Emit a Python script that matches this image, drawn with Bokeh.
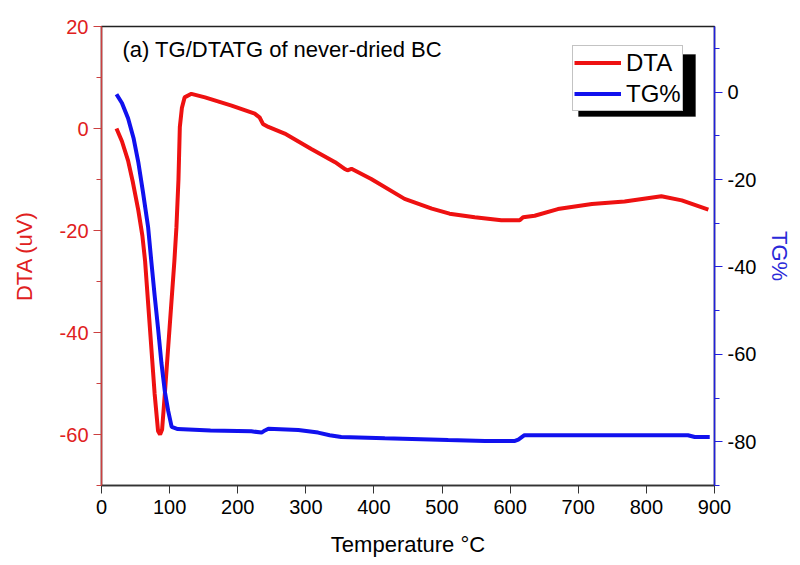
from bokeh.plotting import figure
from bokeh.models import (Range1d, LinearAxis, FixedTicker, Legend, LegendItem,
                          Label, BoxAnnotation, CustomJSTickFormatter)
from bokeh.embed import file_html
from bokeh.resources import INLINE

# ---- data ----
temp_dta = [22, 30, 39, 46, 54, 60, 64, 71, 78, 83, 86, 89, 93, 100, 107, 110, 113,
            115, 118, 122, 132, 152, 191, 225, 232, 237, 245, 269, 308, 343, 358,
            361, 367, 396, 445, 485, 511, 548, 587, 614, 619, 636, 670, 720, 768,
            822, 852, 891]
dta = [0, -2.5, -6.3, -10.5, -16, -21, -26, -39, -52, -59.3, -60, -59, -52, -39,
       -26, -19.4, -10, 0.3, 4, 6.1, 6.8, 6.1, 4.5, 2.9, 2.2, 0.9, 0.3, -1.0, -4.0,
       -6.6, -8.0, -8.2, -7.9, -9.9, -13.8, -15.7, -16.7, -17.4, -18.0, -18.0,
       -17.4, -17.1, -15.8, -14.8, -14.3, -13.3, -14.1, -15.9]

temp_tg = [22, 30, 39, 47, 54, 61, 68.5, 73, 78, 83, 88, 93, 98, 103, 112, 160,
           220, 235, 240, 245, 289, 318, 335, 352, 416, 509, 563, 607, 612, 621,
           695, 861, 871, 893]
tg = [-0.5, -2.5, -6, -10.5, -16, -23, -31, -38.5, -46.5, -54, -62, -68.5, -73,
      -76.6, -77.1, -77.4, -77.6, -77.9, -77.4, -77.0, -77.3, -77.9, -78.5, -78.9,
      -79.2, -79.6, -79.8, -79.8, -79.5, -78.5, -78.5, -78.5, -78.9, -78.9]

x_ticks = [0, 100, 200, 300, 400, 500, 600, 700, 800, 900]
dta_ticks = [-60, -40, -20, 0, 20]
dta_minor = [-70, -50, -30, -10, 10]
tg_ticks = [-80, -60, -40, -20, 0]
tg_minor = [-90, -70, -50, -30, -10, 10]

RED = "#ee1111"
BLUE = "#1111ee"
FONT = "Liberation Sans"

p = figure(frame_width=613, frame_height=459, output_backend="svg",
           toolbar_location=None, x_range=Range1d(0, 900), y_range=Range1d(-70, 20),
           min_border_left=101, min_border_right=74, min_border_top=26,
           min_border_bottom=75)
p.extra_y_ranges = {"tg": Range1d(-90, 15)}
p.grid.visible = False
p.outline_line_color = "#222222"
p.outline_line_width = 1.5
p.background_fill_color = "white"

r1 = p.line(temp_dta, dta, line_color=RED, line_width=4)
r2 = p.line(temp_tg, tg, line_color=BLUE, line_width=4, y_range_name="tg")

fmt = "return tick.toFixed(0);"

# bottom axis
xa = p.xaxis[0]
xa.ticker = FixedTicker(ticks=x_ticks, minor_ticks=[])
xa.formatter = CustomJSTickFormatter(code=fmt)
xa.axis_label = "Temperature °C"
xa.axis_line_color = "#333333"
xa.axis_line_width = 1.5
xa.major_tick_line_color = "#333333"
xa.major_tick_in = 0
xa.major_tick_out = 8
xa.minor_tick_out = 0
xa.minor_tick_in = 0
xa.major_label_text_font = FONT
xa.major_label_text_font_size = "20px"
xa.major_label_text_color = "black"
xa.major_label_standoff = 6
xa.axis_label_text_font = FONT
xa.axis_label_text_font_size = "22px"
xa.axis_label_text_font_style = "normal"
xa.axis_label_text_color = "black"
xa.axis_label_standoff = 15

# left axis (DTA)
ya = p.yaxis[0]
ya.ticker = FixedTicker(ticks=dta_ticks, minor_ticks=dta_minor)
ya.formatter = CustomJSTickFormatter(code=fmt)
ya.axis_label = "DTA (uV)"
ya.axis_line_color = "#cc4040"
ya.axis_line_width = 1.5
ya.major_tick_line_color = "#cc4040"
ya.minor_tick_line_color = "#cc4040"
ya.major_tick_in = 0
ya.major_tick_out = 8
ya.minor_tick_in = 0
ya.minor_tick_out = 5
ya.major_label_text_font = FONT
ya.major_label_text_font_size = "20px"
ya.major_label_text_color = "#e02020"
ya.major_label_standoff = 5
ya.axis_label_text_font = FONT
ya.axis_label_text_font_size = "22px"
ya.axis_label_text_font_style = "normal"
ya.axis_label_text_color = "#e02020"
ya.axis_label_standoff = 20

# right axis (TG%)
ra = LinearAxis(y_range_name="tg", axis_label="TG%")
ra.ticker = FixedTicker(ticks=tg_ticks, minor_ticks=tg_minor)
ra.formatter = CustomJSTickFormatter(code=fmt)
ra.axis_line_color = "#2020dd"
ra.axis_line_width = 1.5
ra.major_tick_line_color = "#2020dd"
ra.minor_tick_line_color = "#2020dd"
ra.major_tick_in = 0
ra.major_tick_out = 8
ra.minor_tick_in = 0
ra.minor_tick_out = 5
ra.major_label_text_font = FONT
ra.major_label_text_font_size = "20px"
ra.major_label_text_color = "black"
ra.major_label_standoff = 5
ra.axis_label_text_font = FONT
ra.axis_label_text_font_size = "22px"
ra.axis_label_text_font_style = "normal"
ra.axis_label_text_color = "#2a2ad8"
ra.axis_label_standoff = 8
p.add_layout(ra, "right")

# title inside the plot
title = Label(x=21, y=436, x_units="screen", y_units="screen",
              text="(a) TG/DTATG of never-dried BC", text_font=FONT,
              text_font_size="22px", text_color="black", text_baseline="alphabetic")
p.add_layout(title)

# legend shadow
shadow = BoxAnnotation(left=477, right=594, top=431, bottom=369,
                       left_units="screen", right_units="screen",
                       top_units="screen", bottom_units="screen",
                       fill_color="black", fill_alpha=1.0, line_color="black")
p.add_layout(shadow)

legend = Legend(items=[LegendItem(label="DTA", renderers=[r1]),
                       LegendItem(label="TG%", renderers=[r2])],
                location=(471, 374), margin=0, padding=1, spacing=0,
                glyph_width=47, glyph_height=31, label_height=31,
                label_standoff=5, label_text_font=FONT, label_text_font_size="24px",
                label_text_color="black", border_line_color="#888888",
                border_line_width=1, background_fill_color="white",
                background_fill_alpha=1.0)
p.add_layout(legend, "center")

open("out.html", "w").write(file_html(p, INLINE))
